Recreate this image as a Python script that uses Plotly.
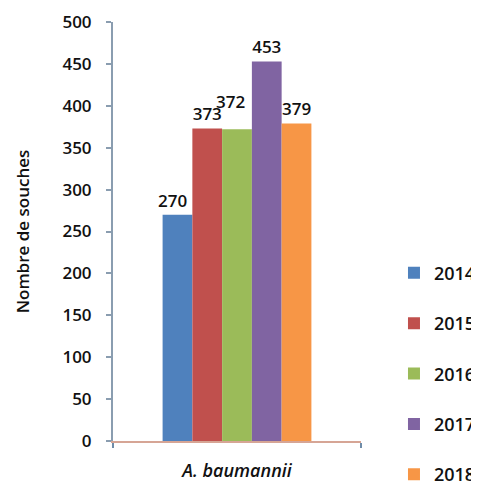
import plotly.graph_objects as go

categories = ["A. baumannii"]
years = ["2014", "2015", "2016", "2017", "2018"]
values = [270, 373, 372, 453, 379]
colors = ["#4F81BD", "#C0504D", "#9BBB59", "#8064A2", "#F79646"]
y_ticks = [0, 50, 100, 150, 200, 250, 300, 350, 400, 450, 500]

FONT = "Open Sans"
LABEL_FONT = dict(family=FONT, size=17, color="#111111", weight=600)
# the page body has an 8px default margin; the figure is sized to fill the window
OFF = 8
# Excel nudged the 2016 label up-left to avoid overlapping 2015's
MOVED = 2
HID = "<span style='color:rgba(0,0,0,0)'>0</span>"

fig = go.Figure()
for i, (yr, v, c) in enumerate(zip(years, values, colors)):
    txt = str(v) + (HID if i == 0 else "")
    fig.add_trace(go.Bar(
        x=categories, y=[v], name=yr, legendgroup=yr,
        marker=dict(color=c, line=dict(width=0)),
        text=[txt], textposition="none" if i == MOVED else "outside",
        constraintext="none", textfont=LABEL_FONT, cliponaxis=False,
    ))

fig.add_annotation(
    x=categories[0], y=values[MOVED], text=str(values[MOVED]),
    showarrow=False, yanchor="bottom", xanchor="center",
    xshift=-7, yshift=14, font=LABEL_FONT,
)

fig.update_layout(
    width=479 - OFF, height=485 - OFF,
    margin=dict(l=113 - OFF, r=118, t=22 - OFF, b=44, autoexpand=False),
    paper_bgcolor="white", plot_bgcolor="white",
    barmode="group", bargap=0.4, bargroupgap=0,
    font=dict(family=FONT, color="#111111"),
    showlegend=True,
    legend=dict(
        x=1.133, xanchor="left", y=0.445, yanchor="top",
        traceorder="grouped", tracegroupgap=24,
        font=dict(family=FONT, size=18, color="#111111", weight=600),
        bgcolor="rgba(0,0,0,0)",
    ),
    xaxis=dict(
        type="category", range=[-0.5, 0.5],
        showline=True, linecolor="#D6A595", linewidth=2,
        ticks="outside", tickson="boundaries", ticklen=5, tickcolor="#6F8CA8", tickwidth=2,
        ticklabelstandoff=12,
        tickfont=dict(family=FONT, size=18, color="#111111", style="italic", weight=600),
        showgrid=False, zeroline=False,
    ),
    yaxis=dict(
        range=[0, 500], tickvals=y_ticks,
        showline=True, linecolor="#8A9DB0", linewidth=2,
        ticks="outside", ticklen=5, tickcolor="#8A9DB0", tickwidth=2,
        ticklabelstandoff=11,
        tickfont=dict(family=FONT, size=17, color="#111111", weight=600),
        showgrid=False, zeroline=False,
        title=dict(text="Nombre de souches", standoff=28,
                   font=dict(family=FONT, size=17, color="#111111", weight=600)),
    ),
)

fig.write_html("out.html")
